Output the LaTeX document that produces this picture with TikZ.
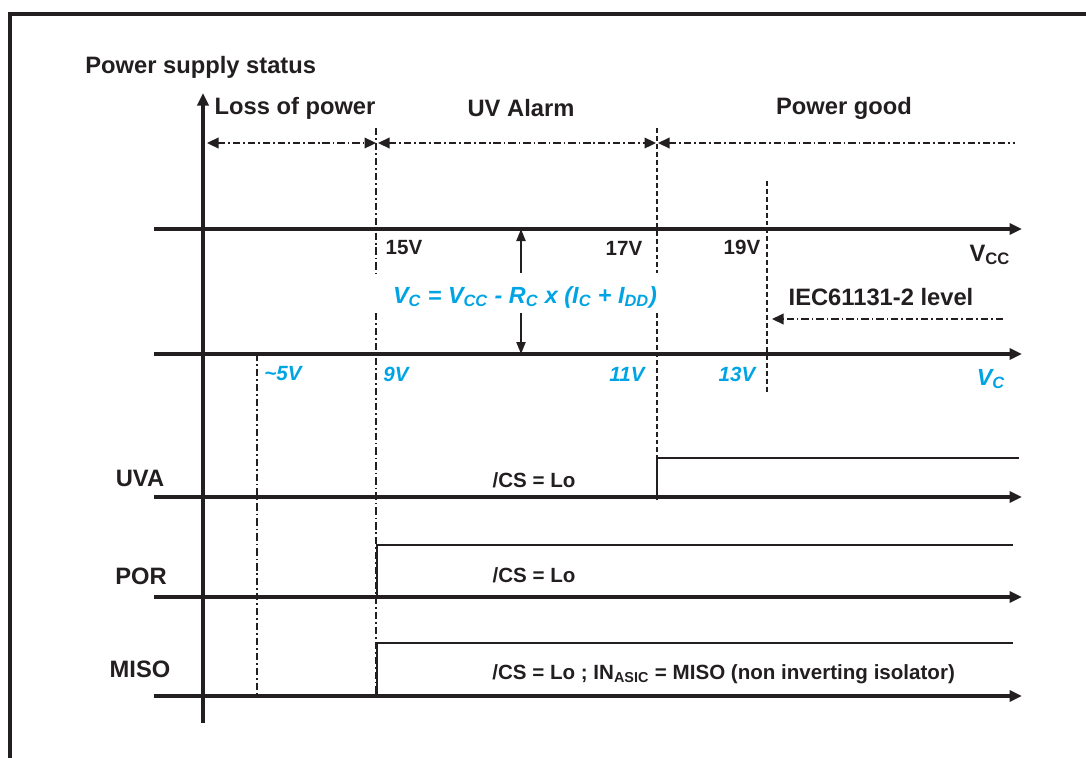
\documentclass[tikz,border=0pt]{standalone}
\usepackage{fontspec}
\setmainfont{Liberation Sans}
\usetikzlibrary{arrows.meta}

\begin{document}
\begin{tikzpicture}[
  x=1cm,y=1cm,
  font=\fontsize{13.5}{16}\selectfont\bfseries,
  axis/.style={line width=1.9pt,draw=ink,-{Triangle[length=2.5mm,width=2.2mm]}},
  level/.style={line width=0.9pt,draw=ink},
  dashdot/.style={line width=1.3pt,draw=ink,dash pattern=on 4.2pt off 1.7pt on 0.9pt off 1.7pt},
  dashln/.style={line width=1.3pt,draw=ink,dash pattern=on 2.8pt off 1.7pt},
  span/.style={dashdot,{Triangle[length=2.3mm,width=2.1mm]}-{Triangle[length=2.3mm,width=2.1mm]}},
  tip/.style={line width=1.2pt,draw=ink,-{Triangle[length=2.4mm,width=1.8mm]}},
  lab/.style={text=ink,inner sep=0pt},
  volt/.style={lab,font=\fontsize{11.7}{14}\selectfont\bfseries},
  cvolt/.style={lab,text=vcBlue,font=\fontsize{11.7}{14}\selectfont\bfseries\itshape},
  clab/.style={lab,text=vcBlue,font=\fontsize{13.3}{16}\selectfont\bfseries\itshape},
]
\definecolor{ink}{HTML}{231F20}
\definecolor{vcBlue}{HTML}{00A4E4}

\useasboundingbox (0,0) rectangle (21.72,15.14);
\clip (0,0) rectangle (21.72,15.14);

% frame
\draw[line width=2pt,draw=ink] (0.2,-0.5) -- (0.2,14.86) -- (22.5,14.86);

% status axis
\coordinate (o0) at (4.06,0.68);
\coordinate (o1) at (4.06,13.28);
\draw[axis] (o0) -- (o1);

% voltage and signal axes
\foreach \n/\y in {vcc/10.56,vc/8.06,uva/5.2,por/3.2,miso/1.22}{
  \coordinate (\n L) at (3.08,\y);
  \coordinate (\n R) at (20.44,\y);
  \draw[axis] (\n L) -- (\n R);
}

% thresholds
\coordinate (b0t) at (5.14,8.06);
\coordinate (b0b) at (5.14,1.22);
\coordinate (b1t) at (7.52,12.58);
\coordinate (b1m) at (7.52,9.68);
\coordinate (b1n) at (7.52,8.88);
\coordinate (b1b) at (7.52,1.22);
\coordinate (b2t) at (13.14,12.58);
\coordinate (b2m) at (13.14,9.68);
\coordinate (b2n) at (13.14,8.88);
\coordinate (b2b) at (13.14,5.12);
\coordinate (b3t) at (15.34,11.52);
\coordinate (b3b) at (15.34,7.26);
\draw[dashdot] (b0t) -- (b0b);
\draw[dashdot] (b1t) -- (b1m);
\draw[dashdot] (b1n) -- (b1b);
\draw[dashln] (b2t) -- (b2m);
\draw[dashln] (b2n) -- (b2b);
\draw[dashln] (b3t) -- (b3b);

% signal levels
\coordinate (uvaE) at (13.14,5.2);
\coordinate (uvaH) at (20.38,5.98);
\coordinate (porE) at (7.54,3.2);
\coordinate (porH) at (20.26,4.24);
\coordinate (misoE) at (7.54,1.22);
\coordinate (misoH) at (20.26,2.28);
\draw[level] (uvaE) |- (uvaH);
\draw[level] (porE) |- (porH);
\draw[level] (misoE) |- (misoH);

% status spans
\coordinate (s0) at (4.14,12.28);
\coordinate (s1) at (7.52,12.28);
\coordinate (s1b) at (7.56,12.28);
\coordinate (s2) at (13.12,12.28);
\coordinate (s2b) at (13.16,12.28);
\coordinate (s3) at (20.3,12.28);
\draw[span] (s0) -- (s1);
\draw[span] (s1b) -- (s2);
\draw[dashdot,{Triangle[length=2.3mm,width=2.1mm]}-] (s2b) -- (s3);

% IEC level
\coordinate (iecS) at (20.06,8.76);
\coordinate (iecE) at (15.44,8.76);
\draw[dashdot,-{Triangle[length=2.3mm,width=2.1mm]}] (iecS) -- (iecE);

% Vc formula arrows
\coordinate (fU0) at (10.42,9.68);
\coordinate (fU1) at (10.42,10.56);
\coordinate (fD0) at (10.42,8.88);
\coordinate (fD1) at (10.42,8.06);
\draw[tip] (fU0) -- (fU1);
\draw[tip] (fD0) -- (fD1);

% labels
\node[lab,anchor=west] (status) at (1.7,13.8) {Power supply status};
\node[lab] (loss) at (5.9,12.98) {Loss of power};
\node[lab] (uvalarm) at (10.42,12.98) {UV Alarm};
\node[lab] (pgood) at (16.88,12.98) {Power good};
\node[volt] (v15) at (8.08,10.18) {15V};
\node[volt] (v17) at (12.48,10.18) {17V};
\node[volt] (v19) at (14.84,10.2) {19V};
\node[lab] (vcc) at (19.8,10.04) {V\textsubscript{CC}};
\node[clab] (vcform) at (10.5,9.2) {V\textsubscript{C} = V\textsubscript{CC} - R\textsubscript{C} x (I\textsubscript{C} + I\textsubscript{DD})};
\node[lab] (iec) at (17.62,9.2) {IEC61131-2 level};
\node[cvolt] (v5) at (5.66,7.66) {\textasciitilde 5V};
\node[cvolt] (v9) at (7.92,7.66) {9V};
\node[cvolt] (v11) at (12.54,7.66) {11V};
\node[cvolt] (v13) at (14.74,7.66) {13V};
\node[clab] (vc) at (19.82,7.56) {V\textsubscript{C}};
\node[lab] (uva) at (2.8,5.58) {UVA};
\node[lab] (por) at (2.82,3.62) {POR};
\node[lab] (miso) at (2.8,1.76) {MISO};
\node[volt] (csuva) at (10.68,5.54) {/CS = Lo};
\node[volt] (cspor) at (10.68,3.64) {/CS = Lo};
\node[volt,anchor=base west] (csmiso) at (9.84,1.56) {/CS = Lo ; IN\textsubscript{ASIC} = MISO (non inverting isolator)};
\end{tikzpicture}
\end{document}
